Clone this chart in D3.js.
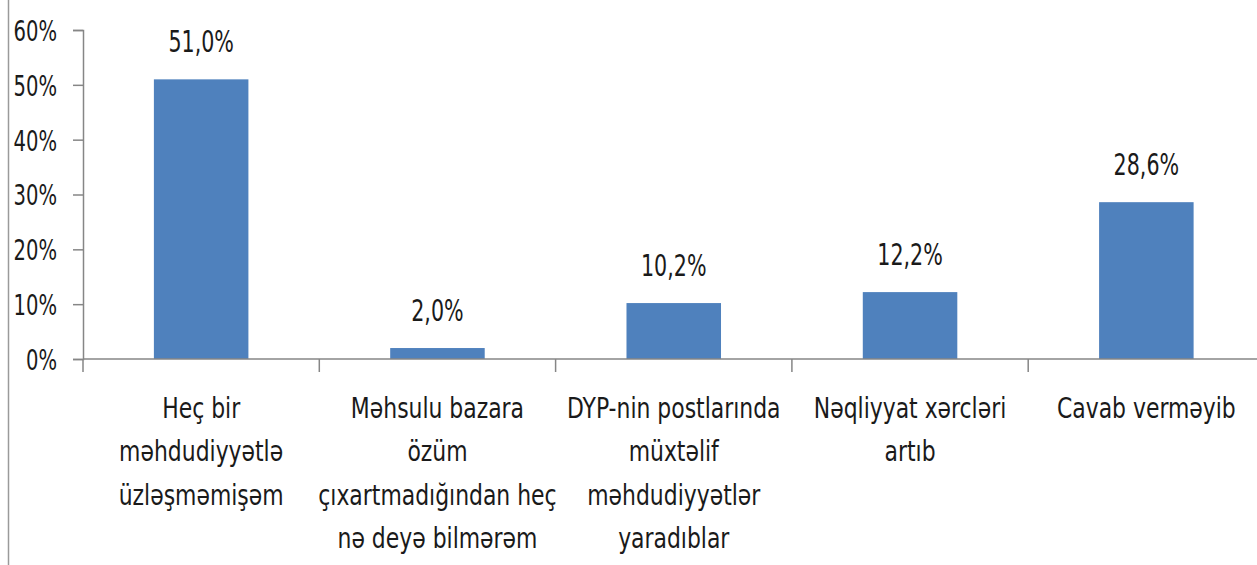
<!DOCTYPE html>
<head>
    <meta charset="utf-8">
    <style>
        body { margin: 0; background: #fff; }
        svg { display: block; }
        text {
            font-family: 'Liberation Sans Narrow', 'DejaVu Sans Condensed', sans-serif;
            fill: #1a1a1a;
        }
        .axis .domain, .axis line { stroke: #868686; stroke-width: 1.5px; }
        .axis text { font-size: 29px; }
        .label { font-size: 31px; }
        .cat { font-size: 28px; }
    </style>
</head>
<body>
    <div id="chart"></div>
    <script src="https://d3js.org/d3.v7.min.js"></script>
    <script>
        // answers (category labels, split into lines as in the original)
        var categories = [
            ["Heç bir", "məhdudiyyətlə", "üzləşməmişəm"],
            ["Məhsulu bazara", "özüm", "çıxartmadığından heç", "nə deyə bilmərəm"],
            ["DYP-nin postlarında", "müxtəlif", "məhdudiyyətlər", "yaradıblar"],
            ["Nəqliyyat xərcləri", "artıb"],
            ["Cavab verməyib"]
        ];
        var values = [0.51, 0.02, 0.102, 0.122, 0.286];
        var labels = ["51,0%", "2,0%", "10,2%", "12,2%", "28,6%"];
        var yTicks = [0, 0.1, 0.2, 0.3, 0.4, 0.5, 0.6];

        // narrow the fallback font like the original (tall, condensed glyphs)
        var sqTick = 0.75, sqLabel = 0.74, sqCat = 0.87;

        var W = 1257, H = 565;
        var margin = {top: 30, left: 83};
        var band = 236.3;
        var width = band * categories.length,   // runs past the right edge, as in the original
            height = 329;

        var svg = d3.select("#chart").append("svg")
            .attr("width", W)
            .attr("height", H);

        // left frame line
        svg.append("line")
            .attr("x1", 8.5).attr("x2", 8.5)
            .attr("y1", 0).attr("y2", H)
            .attr("stroke", "#9a9a9a")
            .attr("stroke-width", 1.5);

        var g = svg.append("g")
            .attr("transform", "translate(" + margin.left + "," + margin.top + ")");

        var idx = d3.range(categories.length);

        var x = d3.scaleBand()
            .domain(idx)
            .range([0, width])
            .paddingInner(0)
            .paddingOuter(0);

        var y = d3.scaleLinear()
            .domain([0, 0.6])
            .range([height, 0]);

        var barW = x.bandwidth() * 0.40;

        g.selectAll("rect.bar")
            .data(idx)
            .enter().append("rect")
            .attr("class", "bar")
            .attr("x", function(i) { return x(i) + (x.bandwidth() - barW) / 2; })
            .attr("y", function(i) { return y(values[i]); })
            .attr("width", barW)
            .attr("height", function(i) { return height - y(values[i]); })
            .attr("fill", "#4f81bd");

        g.selectAll("text.label")
            .data(idx)
            .enter().append("text")
            .attr("class", "label")
            .attr("text-anchor", "middle")
            .attr("transform", function(i) {
                return "translate(" + (x(i) + x.bandwidth() / 2) + "," + (y(values[i]) - 27) + ") scale(" + sqLabel + ",1)";
            })
            .text(function(i) { return labels[i]; });

        // y axis
        var yAxis = g.append("g")
            .attr("class", "axis")
            .call(d3.axisLeft(y).tickValues(yTicks).tickSize(10).tickPadding(14)
                .tickFormat(d3.format(".0%")));
        yAxis.selectAll("text")
            .attr("dy", "0.36em")
            .attr("x", -26 / sqTick)
            .attr("transform", "scale(" + sqTick + ",1)");

        // x axis: line with ticks at category boundaries
        var xa = g.append("g")
            .attr("class", "axis")
            .attr("transform", "translate(0," + height + ")");
        xa.append("line")
            .attr("x1", 0).attr("x2", width)
            .attr("y1", 0).attr("y2", 0);
        xa.selectAll("line.tk")
            .data(idx)
            .enter().append("line")
            .attr("class", "tk")
            .attr("x1", function(i) { return x(i); })
            .attr("x2", function(i) { return x(i); })
            .attr("y1", 0).attr("y2", 13);

        // category labels
        var cat = g.selectAll("text.cat")
            .data(idx)
            .enter().append("text")
            .attr("class", "cat")
            .attr("text-anchor", "middle")
            .attr("transform", function(i) {
                return "translate(" + (x(i) + x.bandwidth() / 2) + "," + (height + 59) + ") scale(" + sqCat + ",1)";
            });
        cat.selectAll("tspan")
            .data(function(i) { return categories[i]; })
            .enter().append("tspan")
            .attr("x", 0)
            .attr("y", function(d, j) { return j * 43.5; })
            .text(function(d) { return d; });
    </script>
</body>
